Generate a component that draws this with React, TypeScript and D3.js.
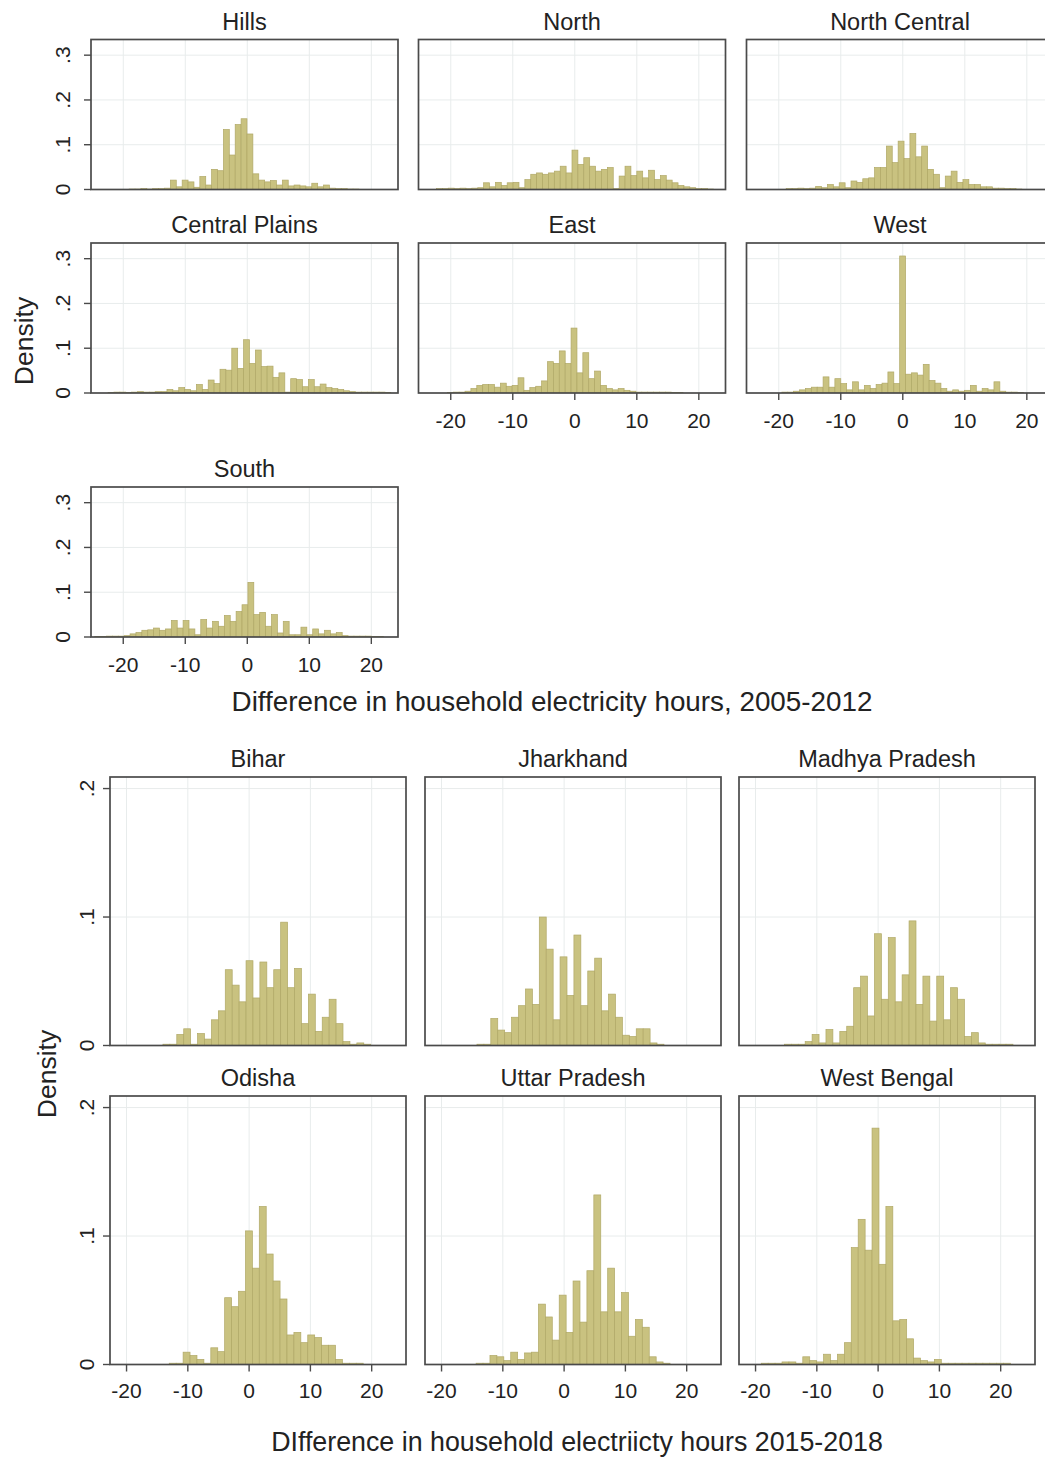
import React from 'react';
import * as d3 from 'd3';

// ---------- 2005-2012 : regions ----------
const regions2012 = ['Hills', 'North', 'North Central', 'Central Plains', 'East', 'West', 'South'];
const binWidth2012 = 0.95;
const binStarts2012 = [-19.05, -22.3, -18.8, -22.45, -20.55, -19.5, -24.6];

const hillsDensity = [0.001, 0.001, 0.002, 0.001, 0.002, 0.002, 0.003, 0.021, 0.006, 0.021, 0.017, 0.005, 0.029, 0.010, 0.045, 0.042, 0.134, 0.077, 0.145, 0.158, 0.124, 0.035, 0.021, 0.017, 0.020, 0.010, 0.021, 0.008, 0.010, 0.008, 0.006, 0.014, 0.006, 0.010, 0.003, 0.002, 0.002, 0.001, 0.001];
const northDensity = [0.002, 0.002, 0.003, 0.002, 0.003, 0.002, 0.003, 0.004, 0.015, 0.006, 0.016, 0.009, 0.015, 0.016, 0.004, 0.022, 0.034, 0.037, 0.034, 0.037, 0.041, 0.052, 0.037, 0.088, 0.056, 0.071, 0.052, 0.041, 0.045, 0.049, 0.002, 0.030, 0.052, 0.031, 0.041, 0.026, 0.043, 0.022, 0.031, 0.021, 0.015, 0.009, 0.006, 0.004, 0.002, 0.002, 0.001];
const northCentralDensity = [0.002, 0.002, 0.003, 0.002, 0.003, 0.007, 0.004, 0.011, 0.006, 0.015, 0.004, 0.019, 0.016, 0.024, 0.026, 0.049, 0.049, 0.097, 0.060, 0.108, 0.069, 0.125, 0.073, 0.097, 0.045, 0.034, 0.004, 0.030, 0.041, 0.016, 0.022, 0.011, 0.011, 0.006, 0.006, 0.003, 0.003, 0.002, 0.002, 0.001];
const centralPlainsDensity = [0.001, 0.002, 0.002, 0.001, 0.002, 0.003, 0.002, 0.002, 0.003, 0.003, 0.008, 0.005, 0.012, 0.008, 0.005, 0.019, 0.008, 0.029, 0.021, 0.053, 0.051, 0.100, 0.055, 0.119, 0.066, 0.096, 0.059, 0.060, 0.035, 0.045, 0.002, 0.032, 0.030, 0.014, 0.030, 0.014, 0.020, 0.012, 0.010, 0.008, 0.005, 0.003, 0.002, 0.002, 0.002, 0.002, 0.002, 0.001];
const eastDensity = [0.001, 0.002, 0.002, 0.004, 0.010, 0.017, 0.019, 0.019, 0.013, 0.022, 0.015, 0.017, 0.034, 0.006, 0.012, 0.015, 0.027, 0.070, 0.066, 0.094, 0.066, 0.145, 0.045, 0.090, 0.032, 0.049, 0.017, 0.010, 0.007, 0.010, 0.006, 0.004, 0.002, 0.002, 0.002, 0.002, 0.002, 0.002, 0.001, 0.001];
const westDensity = [0.002, 0.002, 0.004, 0.007, 0.010, 0.013, 0.013, 0.036, 0.013, 0.032, 0.021, 0.007, 0.025, 0.007, 0.017, 0.010, 0.019, 0.022, 0.047, 0.021, 0.306, 0.042, 0.045, 0.040, 0.064, 0.028, 0.022, 0.010, 0.004, 0.007, 0.004, 0.006, 0.017, 0.004, 0.010, 0.007, 0.025, 0.004, 0.002, 0.002, 0.001];
const southDensity = [0.001, 0.001, 0.002, 0.002, 0.002, 0.003, 0.007, 0.010, 0.015, 0.016, 0.020, 0.015, 0.018, 0.037, 0.020, 0.037, 0.018, 0.005, 0.039, 0.020, 0.035, 0.024, 0.048, 0.035, 0.057, 0.072, 0.122, 0.050, 0.055, 0.024, 0.050, 0.009, 0.035, 0.005, 0.005, 0.022, 0.005, 0.018, 0.007, 0.015, 0.007, 0.010, 0.003, 0.002, 0.002, 0.002, 0.002, 0.001, 0.001];

const densities2012 = [hillsDensity, northDensity, northCentralDensity, centralPlainsDensity, eastDensity, westDensity, southDensity];
const yTicks2012 = [0, 0.1, 0.2, 0.3];
const yTickLabels2012 = ['0', '.1', '.2', '.3'];
const xTicks = [-20, -10, 0, 10, 20];
const xTitle2012 = 'Difference in household electricity hours, 2005-2012';

// ---------- 2015-2018 : states ----------
const states2018 = ['Bihar', 'Jharkhand', 'Madhya Pradesh', 'Odisha', 'Uttar Pradesh', 'West Bengal'];
const binWidth2018 = 1.13;
const binStarts2018 = [-14.06, -14.22, -15.29, -13.03, -14.36, -19.07];

const biharDensity = [0.001, 0.001, 0.0086, 0.013, 0.001, 0.0093, 0.005, 0.020, 0.027, 0.059, 0.047, 0.034, 0.066, 0.037, 0.065, 0.045, 0.059, 0.096, 0.045, 0.060, 0.017, 0.040, 0.011, 0.022, 0.036, 0.017, 0.003, 0.001, 0.002, 0.001];
const jharkhandDensity = [0.001, 0.001, 0.021, 0.012, 0.010, 0.022, 0.031, 0.044, 0.032, 0.100, 0.075, 0.020, 0.069, 0.039, 0.086, 0.031, 0.058, 0.068, 0.027, 0.040, 0.022, 0.008, 0.007, 0.013, 0.013, 0.002, 0.001];
const madhyaPradeshDensity = [0.001, 0.001, 0.001, 0.003, 0.0086, 0.002, 0.0125, 0.002, 0.011, 0.015, 0.045, 0.054, 0.023, 0.087, 0.036, 0.084, 0.034, 0.055, 0.097, 0.032, 0.054, 0.019, 0.054, 0.020, 0.045, 0.036, 0.007, 0.010, 0.002, 0.001, 0.001, 0.001, 0.001];
const odishaDensity = [0.001, 0.001, 0.0096, 0.007, 0.004, 0.001, 0.013, 0.010, 0.052, 0.045, 0.057, 0.104, 0.075, 0.123, 0.086, 0.065, 0.051, 0.023, 0.025, 0.017, 0.023, 0.021, 0.015, 0.015, 0.004, 0.001, 0.001, 0.001];
const uttarPradeshDensity = [0.001, 0.001, 0.007, 0.006, 0.003, 0.0096, 0.004, 0.009, 0.0096, 0.047, 0.037, 0.019, 0.054, 0.025, 0.065, 0.033, 0.073, 0.132, 0.041, 0.075, 0.041, 0.056, 0.022, 0.035, 0.029, 0.006, 0.002, 0.001];
const westBengalDensity = [0.001, 0.001, 0.001, 0.002, 0.002, 0.001, 0.006, 0.003, 0.002, 0.008, 0.003, 0.008, 0.017, 0.091, 0.113, 0.089, 0.184, 0.078, 0.123, 0.034, 0.035, 0.020, 0.005, 0.003, 0.002, 0.004, 0.001, 0.001, 0.001, 0.001, 0.001, 0.001, 0.001, 0.001, 0.001, 0.001];

const densities2018 = [biharDensity, jharkhandDensity, madhyaPradeshDensity, odishaDensity, uttarPradeshDensity, westBengalDensity];
const yTicks2018 = [0, 0.1, 0.2];
const yTickLabels2018 = ['0', '.1', '.2'];
const xTitle2018 = 'DIfference in household electriicty hours 2015-2018';

// ---------- styling ----------
const FONT = '"Liberation Sans", Arial, Helvetica, sans-serif';
const BAR_FILL = '#c9c280';
const BAR_STROKE = '#b0a866';
const FRAME = '#4a4a4a';
const GRID = '#e8ecec';
const TEXT = '#222222';

type PanelSpec = {
  key: string;
  title: string;
  left: number;
  top: number;
  width: number;
  height: number;
  xDomain: [number, number];
  yMax: number;
  start: number;
  binWidth: number;
  values: number[];
  yTicks: number[];
  yTickLabels: string[];
  showX: boolean;
  showY: boolean;
  yLabelOffset: number;
  xLabelOffset: number;
};

function Panel({ p }: { p: PanelSpec }) {
  const x = d3.scaleLinear().domain(p.xDomain).range([p.left, p.left + p.width]);
  const y = d3.scaleLinear().domain([0, p.yMax]).range([p.top + p.height, p.top]);
  const clipId = `clip-${p.key}`;
  const bins = p.values.map((v, i) => {
    const x0 = p.start + i * p.binWidth;
    return { x0, x1: x0 + p.binWidth, v };
  });
  const tickLen = 7;
  return (
    <g>
      <defs>
        <clipPath id={clipId}>
          <rect x={p.left} y={p.top} width={p.width} height={p.height} />
        </clipPath>
      </defs>
      <rect x={p.left} y={p.top} width={p.width} height={p.height} fill="#ffffff" />
      {/* grid */}
      {xTicks.map((t) => (
        <line key={`gx${t}`} x1={x(t)} x2={x(t)} y1={p.top} y2={p.top + p.height} stroke={GRID} strokeWidth={1} />
      ))}
      {p.yTicks.filter((t) => t > 0).map((t) => (
        <line key={`gy${t}`} x1={p.left} x2={p.left + p.width} y1={y(t)} y2={y(t)} stroke={GRID} strokeWidth={1} />
      ))}
      {/* histogram bars */}
      <g clipPath={`url(#${clipId})`}>
        {bins.map((b, i) => (
          <rect
            key={i}
            x={x(b.x0)}
            y={y(b.v)}
            width={x(b.x1) - x(b.x0)}
            height={y(0) - y(b.v)}
            fill={BAR_FILL}
            stroke={BAR_STROKE}
            strokeWidth={0.7}
          />
        ))}
      </g>
      {/* frame */}
      <rect x={p.left} y={p.top} width={p.width} height={p.height} fill="none" stroke={FRAME} strokeWidth={1.7} />
      {/* title */}
      <text
        x={p.left + p.width / 2}
        y={p.top - 10}
        textAnchor="middle"
        fontFamily={FONT}
        fontSize={23.5}
        fill={TEXT}
      >
        {p.title}
      </text>
      {p.showY &&
        p.yTicks.map((t, i) => (
          <g key={`yt${t}`}>
            <line x1={p.left - tickLen} x2={p.left} y1={y(t)} y2={y(t)} stroke={FRAME} strokeWidth={1.4} />
            <text
              transform={`translate(${p.left - p.yLabelOffset},${y(t)}) rotate(-90)`}
              textAnchor="middle"
              dy="0.36em"
              fontFamily={FONT}
              fontSize={21}
              fill={TEXT}
            >
              {p.yTickLabels[i]}
            </text>
          </g>
        ))}
      {p.showX &&
        xTicks.map((t) => (
          <g key={`xt${t}`}>
            <line x1={x(t)} x2={x(t)} y1={p.top + p.height} y2={p.top + p.height + tickLen} stroke={FRAME} strokeWidth={1.4} />
            <text
              x={x(t)}
              y={p.top + p.height + p.xLabelOffset}
              textAnchor="middle"
              dy="0.36em"
              fontFamily={FONT}
              fontSize={21}
              fill={TEXT}
            >
              {t}
            </text>
          </g>
        ))}
    </g>
  );
}

export default function App() {
  const W = 1045;
  const H = 1460;

  // 2005-2012 grid geometry
  const colLeftA = [91, 418.5, 746.5];
  const rowTopA = [39.5, 243, 487];
  const panelsA: PanelSpec[] = regions2012.map((name, i) => {
    const r = Math.floor(i / 3);
    const c = i % 3;
    const showX = (r === 1 && c > 0) || r === 2;
    return {
      key: `a${i}`,
      title: name,
      left: colLeftA[c],
      top: rowTopA[r],
      width: 307,
      height: 150,
      xDomain: [-25.2, 24.3],
      yMax: 0.335,
      start: binStarts2012[i],
      binWidth: binWidth2012,
      values: densities2012[i],
      yTicks: yTicks2012,
      yTickLabels: yTickLabels2012,
      showX,
      showY: c === 0,
      yLabelOffset: 29,
      xLabelOffset: 27.5,
    };
  });

  // 2015-2018 grid geometry
  const colLeftB = [110, 425, 739];
  const rowTopB = [777, 1096];
  const panelsB: PanelSpec[] = states2018.map((name, i) => {
    const r = Math.floor(i / 3);
    const c = i % 3;
    return {
      key: `b${i}`,
      title: name,
      left: colLeftB[c],
      top: rowTopB[r],
      width: 296,
      height: 268.5,
      xDomain: [-22.7, 25.6],
      yMax: 0.209,
      start: binStarts2018[i],
      binWidth: binWidth2018,
      values: densities2018[i],
      yTicks: yTicks2018,
      yTickLabels: yTickLabels2018,
      showX: r === 1,
      showY: c === 0,
      yLabelOffset: 23.5,
      xLabelOffset: 26,
    };
  });

  return (
    <svg
      width={W}
      height={H}
      viewBox={`0 0 ${W} ${H}`}
      style={{ position: 'absolute', left: 0, top: 0, background: '#ffffff' }}
    >
      <rect x={0} y={0} width={W} height={H} fill="#ffffff" />
      {panelsA.map((p) => (
        <Panel key={p.key} p={p} />
      ))}
      <text
        transform="translate(33,341) rotate(-90)"
        textAnchor="middle"
        fontFamily={FONT}
        fontSize={26.5}
        fill={TEXT}
      >
        Density
      </text>
      <text x={552} y={711} textAnchor="middle" fontFamily={FONT} fontSize={27.8} fill={TEXT}>
        {xTitle2012}
      </text>

      {panelsB.map((p) => (
        <Panel key={p.key} p={p} />
      ))}
      <text
        transform="translate(56,1074) rotate(-90)"
        textAnchor="middle"
        fontFamily={FONT}
        fontSize={26.5}
        fill={TEXT}
      >
        Density
      </text>
      <text x={577} y={1451} textAnchor="middle" fontFamily={FONT} fontSize={26.8} fill={TEXT}>
        {xTitle2018}
      </text>
    </svg>
  );
}
